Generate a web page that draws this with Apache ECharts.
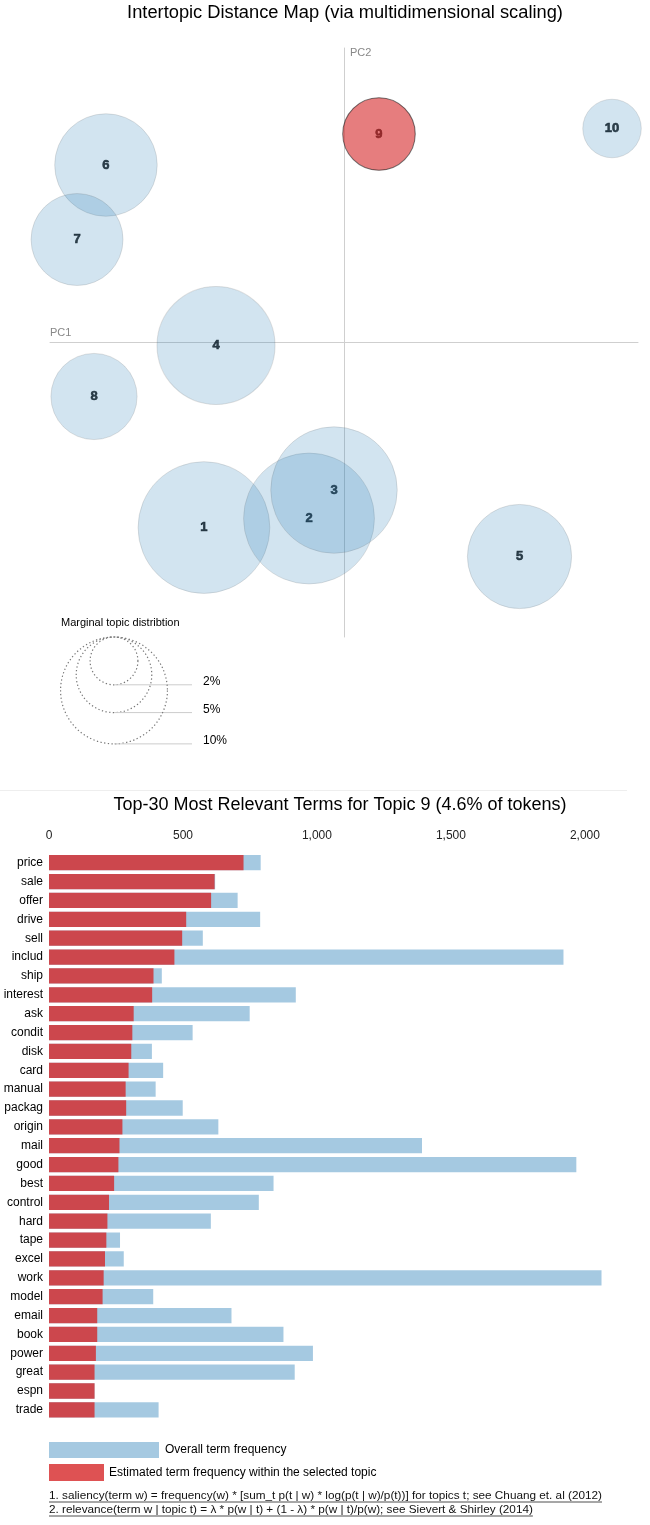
<!DOCTYPE html>
<html>
<head>
<meta charset="utf-8">
<script src="https://cdn.jsdelivr.net/npm/echarts@6/dist/echarts.min.js"></script>
<style>
html,body{margin:0;padding:0;background:#fff;}
#chart{width:650px;height:1525px;}
</style>
</head>
<body>
<div id="chart"></div>
<script>
// ---- Intertopic distance map data ----
const topics = ['1','2','3','4','5','6','7','8','9','10'];
const pc1 = [-0.1429, -0.0357, -0.0102, -0.1306, 0.1791, -0.2429, -0.2724, -0.2551, 0.0357, 0.2735];
const pc2 = [-0.1885, -0.1793, -0.1503, -0.0030, -0.2180, 0.1808, 0.1049, -0.0550, 0.2124, 0.2180];
const marginalPct = [15.2, 15.0, 14.0, 12.2, 9.5, 9.2, 7.4, 6.5, 4.6, 3.0];
const selectedTopic = '9';
const legendPcts = [2, 5, 10];

// ---- Top-30 terms data ----
const terms = ['price','sale','offer','drive','sell','includ','ship','interest','ask','condit','disk','card','manual','packag','origin','mail','good','best','control','hard','tape','excel','work','model','email','book','power','great','espn','trade'];
const overallFreq = [790, 620, 704, 788, 574, 1920, 421, 921, 749, 536, 384, 426, 398, 499, 632, 1392, 1968, 838, 783, 604, 265, 279, 2062, 389, 681, 875, 985, 917, 170, 409];
const topicFreq = [726, 618, 605, 512, 497, 468, 390, 385, 316, 311, 307, 297, 286, 288, 274, 263, 259, 243, 224, 218, 214, 209, 204, 200, 180, 180, 175, 170, 170, 170];
const barTicks = [0, 500, 1000, 1500, 2000];

const FONT = '"Liberation Sans", Arial, Helvetica, sans-serif';
const K = 16.9; // radius (px) per sqrt(percent)

const chart = echarts.init(document.getElementById('chart'), null, {renderer: 'canvas'});

const scatterData = topics.map((t, i) => ({
  name: t,
  value: [pc1[i], pc2[i], marginalPct[i]],
  itemStyle: t === selectedTopic
    ? {color: '#d62728', borderColor: '#1a1a1a', borderWidth: 1, opacity: 0.6}
    : {color: '#1f77b4', borderColor: '#707070', borderWidth: 1, opacity: 0.2}
}));

// measure text for underlines
const mctx = document.createElement('canvas').getContext('2d');
function textWidth(txt, font) { mctx.font = font; return mctx.measureText(txt).width; }

const foot1 = '1. saliency(term w) = frequency(w) * [sum_t p(t | w) * log(p(t | w)/p(t))] for topics t; see Chuang et. al (2012)';
const foot2 = '2. relevance(term w | topic t) = \u03bb * p(w | t) + (1 - \u03bb) * p(w | t)/p(w); see Sievert & Shirley (2014)';
const footFont = '11.75px ' + FONT;

const graphics = [];
function addText(x, y, text, font, fill, align, vAlign) {
  graphics.push({type: 'text', x: x, y: y, silent: true,
    style: {text: text, font: font, fill: fill, align: align || 'left', textAlign: align || 'left',
            verticalAlign: vAlign || 'middle', textVerticalAlign: vAlign || 'middle'}});
}
// titles
addText(345, 13, 'Intertopic Distance Map (via multidimensional scaling)', '18.3px ' + FONT, '#000', 'center');
addText(340, 805, 'Top-30 Most Relevant Terms for Topic 9 (4.6% of tokens)', '18px ' + FONT, '#000', 'center');
// separator
graphics.push({type: 'line', silent: true, shape: {x1: 0, y1: 790.5, x2: 627, y2: 790.5}, style: {stroke: '#eeeeee', lineWidth: 1}});
// axis names
addText(50, 333, 'PC1', '11px ' + FONT, '#888', 'left');
addText(350, 53, 'PC2', '11px ' + FONT, '#888', 'left');
// marginal topic distribution legend
addText(61, 623, 'Marginal topic distribtion', '11px ' + FONT, '#000', 'left');
const legCx = 114, legTop = 637;
legendPcts.forEach(p => {
  const r = K * Math.sqrt(p);
  graphics.push({type: 'circle', silent: true, shape: {cx: legCx, cy: legTop + r, r: r},
    style: {fill: 'none', stroke: '#777', lineWidth: 1.2, lineDash: [1.3, 2.4]}});
  graphics.push({type: 'line', silent: true, shape: {x1: legCx, y1: legTop + 2 * r, x2: 192, y2: legTop + 2 * r},
    style: {stroke: '#cccccc', lineWidth: 1}});
  addText(203, legTop + 2 * r - 3, p + '%', '12px ' + FONT, '#000', 'left');
});
// bar legend
graphics.push({type: 'rect', silent: true, shape: {x: 49, y: 1442, width: 110, height: 16}, style: {fill: '#1f77b4', opacity: 0.4}});
addText(165, 1450, 'Overall term frequency', '12px ' + FONT, '#000', 'left');
graphics.push({type: 'rect', silent: true, shape: {x: 49, y: 1464, width: 55, height: 17}, style: {fill: '#d62728', opacity: 0.8}});
addText(109, 1472.5, 'Estimated term frequency within the selected topic', '12px ' + FONT, '#000', 'left');
// footnotes with underline
addText(49, 1496, foot1, footFont, '#111', 'left');
addText(49, 1510, foot2, footFont, '#111', 'left');
graphics.push({type: 'line', silent: true, shape: {x1: 49, y1: 1502, x2: 49 + textWidth(foot1, footFont), y2: 1502}, style: {stroke: '#222', lineWidth: 0.8}});
graphics.push({type: 'line', silent: true, shape: {x1: 49, y1: 1516, x2: 49 + textWidth(foot2, footFont), y2: 1516}, style: {stroke: '#222', lineWidth: 0.8}});

const option = {
  animation: false,
  backgroundColor: '#fff',
  textStyle: {fontFamily: FONT},
  grid: [
    {left: 50, top: 48, width: 588, height: 589, containLabel: false},
    {left: 49, top: 853.3, width: 589.5, height: 566, containLabel: false}
  ],
  xAxis: [
    {gridIndex: 0, type: 'value', min: -0.3, max: 0.3,
     axisLine: {show: true, onZero: true, lineStyle: {color: '#cfcfcf', width: 1}},
     axisTick: {show: false}, axisLabel: {show: false}, splitLine: {show: false}},
    {gridIndex: 1, type: 'value', min: 0, max: 2200, interval: 500, position: 'top',
     axisLine: {show: false}, axisTick: {show: false}, splitLine: {show: false},
     axisLabel: {show: true, margin: 12, fontSize: 12, color: '#222', fontFamily: FONT,
       showMaxLabel: false,
       formatter: v => barTicks.indexOf(v) >= 0 ? v.toLocaleString('en-US') : ''}}
  ],
  yAxis: [
    {gridIndex: 0, type: 'value', min: -0.3, max: 0.3,
     axisLine: {show: true, onZero: true, lineStyle: {color: '#cfcfcf', width: 1}},
     axisTick: {show: false}, axisLabel: {show: false}, splitLine: {show: false}},
    {gridIndex: 1, type: 'category', data: terms, inverse: true,
     axisLine: {show: false}, axisTick: {show: false}, splitLine: {show: false},
     axisLabel: {show: true, margin: 6, fontSize: 12, color: '#000', fontFamily: FONT}}
  ],
  series: [
    {
      name: 'labels', type: 'scatter', xAxisIndex: 0, yAxisIndex: 0, z: 1,
      symbolSize: 1, itemStyle: {color: 'rgba(0,0,0,0)'}, silent: true,
      label: {show: true, position: 'inside', formatter: p => p.name,
              fontSize: 13, fontWeight: 'bold', color: '#000', fontFamily: FONT,
              textBorderColor: '#000', textBorderWidth: 0.6},
      data: topics.map((t, i) => ({name: t, value: [pc1[i], pc2[i]]}))
    },
    {
      name: 'topics', type: 'scatter', xAxisIndex: 0, yAxisIndex: 0, z: 2,
      symbol: 'circle', silent: true,
      symbolSize: v => 2 * K * Math.sqrt(v[2]),
      data: scatterData
    },
    {
      name: 'Overall term frequency', type: 'bar', xAxisIndex: 1, yAxisIndex: 1,
      data: overallFreq, barCategoryGap: '19%', barGap: '-100%',
      itemStyle: {color: '#1f77b4', opacity: 0.4}, silent: true
    },
    {
      name: 'Estimated term frequency within the selected topic', type: 'bar', xAxisIndex: 1, yAxisIndex: 1,
      data: topicFreq, barCategoryGap: '19%', barGap: '-100%',
      itemStyle: {color: '#d62728', opacity: 0.8}, silent: true
    }
  ],
  graphic: graphics
};
chart.setOption(option);
</script>
</body>
</html>
